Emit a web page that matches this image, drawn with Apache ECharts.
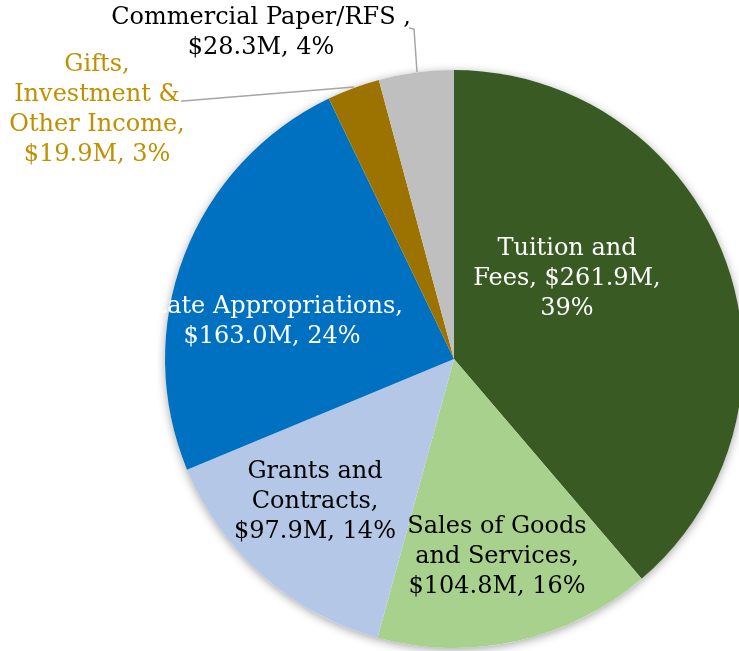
<!DOCTYPE html>
<html>
<head>
<meta charset="utf-8">
<script src="https://cdn.jsdelivr.net/npm/echarts@6/dist/echarts.min.js"></script>
<style>
html,body{margin:0;padding:0;background:#fff;}
#chart{width:739px;height:651px;}
</style>
</head>
<body>
<div id="chart"></div>
<script>
// Data
const categories = ['Tuition and Fees', 'Sales of Goods and Services', 'Grants and Contracts', 'State Appropriations', 'Gifts, Investment & Other Income', 'Commercial Paper/RFS '];
const valuesM = [261.9, 104.8, 97.9, 163.0, 19.9, 28.3];
const labelTemplates = [
  'Tuition and\nFees, {v},\n{p}',
  'Sales of Goods\nand Services,\n{v}, {p}',
  'Grants and\nContracts,\n{v}, {p}',
  'State Appropriations,\n{v}, {p}',
  'Gifts,\nInvestment &\nOther Income,\n{v}, {p}',
  'Commercial Paper/RFS ,\n{v}, {p}'
];

// Styles / layout (not data)
const colors = ['#3A5A24', '#A9D18E', '#B4C7E7', '#0070C0', '#9C7300', '#BFBFBF'];
const labelColors = ['#ffffff', '#000000', '#000000', '#ffffff', '#BF9000', '#000000'];
const labelPos = [[567, 279], [497, 557], [315, 502], [272, 322], [97, 110], [261, 33]];
const leaderLines = {
  4: [[181, 101], [183, 101], [354, 87]],
  5: [[409, 28], [414, 29], [417, 72]]
};

const chart = echarts.init(document.getElementById('chart'));
const data = categories.map((name, i) => ({
  name: name,
  value: valuesM[i],
  itemStyle: { color: colors[i] },
  label: { color: labelColors[i] },
  labelLine: { show: !!leaderLines[i] }
}));
const total = valuesM.reduce((a, b) => a + b, 0);

chart.setOption({
  animation: false,
  series: [{
    // shadow disc behind the pie
    type: 'pie',
    center: [454, 359],
    radius: 289,
    silent: true,
    z: 1,
    label: { show: false },
    labelLine: { show: false },
    data: [{ value: total, name: '' }],
    itemStyle: {
      color: '#ffffff',
      shadowBlur: 10,
      shadowColor: 'rgba(0,0,0,0.35)',
      shadowOffsetX: 0,
      shadowOffsetY: 2
    },
    emphasis: { disabled: true },
    tooltip: { show: false }
  }, {
    type: 'pie',
    z: 2,
    center: [454, 359],
    radius: 289,
    startAngle: 90,
    clockwise: true,
    percentPrecision: 0,
    avoidLabelOverlap: false,
    data: data,
    label: {
      show: true,
      position: 'outside',
      fontFamily: 'DejaVu Serif',
      fontSize: 24,
      lineHeight: 30,
      align: 'center',
      formatter: function (p) {
        return labelTemplates[p.dataIndex]
          .replace('{v}', '$' + p.value.toFixed(1) + 'M')
          .replace('{p}', p.percent + '%');
      }
    },
    labelLine: {
      lineStyle: { color: '#A6A6A6', width: 1.5 }
    },
    labelLayout: function (params) {
      const i = params.dataIndex;
      const res = {
        x: labelPos[i][0],
        y: labelPos[i][1],
        align: 'center',
        verticalAlign: 'middle'
      };
      if (leaderLines[i]) res.labelLinePoints = leaderLines[i];
      return res;
    },
    emphasis: { disabled: true }
  }]
});
</script>
</body>
</html>
